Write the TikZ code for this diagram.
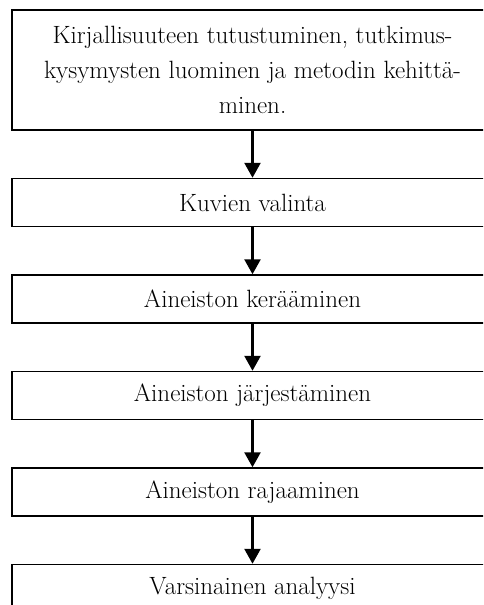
\documentclass[tikz,border=0pt]{standalone}
\usepackage{tikz}
\usetikzlibrary{arrows.meta,positioning}

\tikzset{
  vaihe/.style={draw,line width=1.5pt,minimum width=481pt,minimum height=48pt,
    inner sep=0pt,align=center,font=\fontsize{25}{35}\selectfont},
  nuoli/.style={line width=2.6pt,-{Triangle[width=16pt,length=15pt]}}
}

\begin{document}
\begin{tikzpicture}[x=1pt,y=1pt,node distance=47pt]
  \useasboundingbox (0,0) rectangle (483,-605);
  \clip (0,0) rectangle (483,-605);
  \node[vaihe,minimum height=120pt] (kirjallisuus) at (252.5,-70)
    {Kirjallisuuteen tutustuminen, tutkimus-\\ kysymysten luominen ja metodin kehittä-\\ minen.};
  \node[vaihe,below=of kirjallisuus] (valinta) {Kuvien valinta};
  \node[vaihe,below=of valinta] (keruu) {Aineiston kerääminen};
  \node[vaihe,below=of keruu] (jarjestys) {Aineiston järjestäminen};
  \node[vaihe,below=of jarjestys] (rajaus) {Aineiston rajaaminen};
  \node[vaihe,below=of rajaus] (analyysi) {Varsinainen analyysi};
  \draw[nuoli] (kirjallisuus) -- (valinta);
  \draw[nuoli] (valinta) -- (keruu);
  \draw[nuoli] (keruu) -- (jarjestys);
  \draw[nuoli] (jarjestys) -- (rajaus);
  \draw[nuoli] (rajaus) -- (analyysi);
\end{tikzpicture}
\end{document}
